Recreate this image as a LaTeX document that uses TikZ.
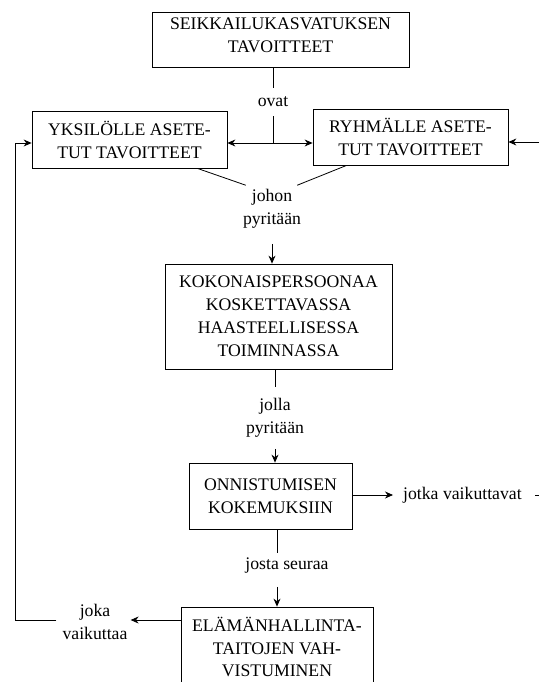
\documentclass[tikz,border=0pt]{standalone}
\usepackage{fontspec}
\setmainfont{Liberation Serif}
\usetikzlibrary{arrows.meta,calc}
\begin{document}
\begin{tikzpicture}[x=1pt,y=-1pt,
  txt/.style={align=center,inner sep=0pt,font=\fontsize{17.7}{23}\selectfont},
  box/.style={txt,draw,line width=0.8pt},
  lbl/.style={txt,inner sep=1pt},
  conn/.style={line width=0.8pt},
  arr/.style={conn,-{Stealth[length=8pt,width=7pt]}}]
\useasboundingbox (0,0) rectangle (539,682);
\clip (0,0) rectangle (539,682);
% boxes
\node[box,minimum width=257pt,minimum height=55pt] (top) at (280.5,39.5) {};
\node[txt] (toptxt) at ([yshift=4.5pt]top.center) {SEIKKAILUKASVATUKSEN\\TAVOITTEET};
\node[box,minimum width=195pt,minimum height=57pt] (left) at (129.5,139.5) {YKSILÖLLE ASETE-\\TUT TAVOITTEET};
\node[box,minimum width=195pt,minimum height=56pt] (right) at (410.5,137) {RYHMÄLLE ASETE-\\TUT TAVOITTEET};
\node[box,minimum width=227pt,minimum height=105pt] (koko) at (278.5,316.5) {KOKONAISPERSOONAA\\KOSKETTAVASSA\\HAASTEELLISESSA\\TOIMINNASSA};
\node[box,minimum width=163pt,minimum height=66pt] (onni) at (270.5,496) {ONNISTUMISEN\\KOKEMUKSIIN};
\node[box,minimum width=192pt,minimum height=80pt,font=\fontsize{17.7}{22.5}\selectfont] (elam) at (277,647) {ELÄMÄNHALLINTA-\\TAITOJEN VAH-\\VISTUMINEN};
% labels
\node[lbl] (johon) at (272,209) {johon\\pyritään};
\node[lbl] (jolla) at (275,418) {jolla\\pyritään};
\node[lbl] (josta) at (287,566) {josta seuraa};
\node[lbl,anchor=west] (jotka) at (402,495) {jotka vaikuttavat};
\node[lbl] (joka) at (95,622) {joka\\vaikuttaa};
% coordinates
\coordinate (J) at (273,143);
\coordinate (R) at (539,142);
\coordinate (FB) at (15,620);
\coordinate (T) at (535,495);
% connectors
\draw[conn] (top.south -| J) -- (J);
\node[lbl,fill=white,inner ysep=9pt,inner xsep=3pt] (ovat) at (273,102) {ovat};
\draw[arr] (J) -- (J -| left.east);
\draw[arr] (J) -- (J -| right.west);
\draw[arr] (R) -- (R -| right.east);
\draw[conn] ($(left.south east)+(-30,0)$) -- ($(johon.north west)+(4,-3)$);
\draw[conn] ($(right.south west)+(34,0)$) -- ($(johon.north east)+(-5,-3)$);
\draw[arr] ($(johon.south)+(0,14)$) -- (johon.south |- koko.north);
\draw[conn] (koko.south -| jolla) -- ($(jolla.north)+(0,-10)$);
\draw[arr] ($(jolla.south)+(0,10)$) -- (jolla.south |- onni.north);
\draw[arr] (onni.east |- jotka) -- ($(jotka.west)+(-9,0)$);
\draw[conn] (T) -- (T -| 539,0);
\draw[conn] (onni.south -| 277,0) -- ($(josta.north -| 277,0)+(0,-4)$);
\draw[arr] ($(josta.south -| 277,0)+(0,12)$) -- (elam.north -| 277,0);
\draw[arr] (elam.west |- FB) -- ($(joka.east |- FB)+(2,0)$);
\draw[arr] ($(joka.west |- FB)+(-5,0)$) -- (FB) -- (FB |- J) -- (J -| left.west);
\end{tikzpicture}
\end{document}
